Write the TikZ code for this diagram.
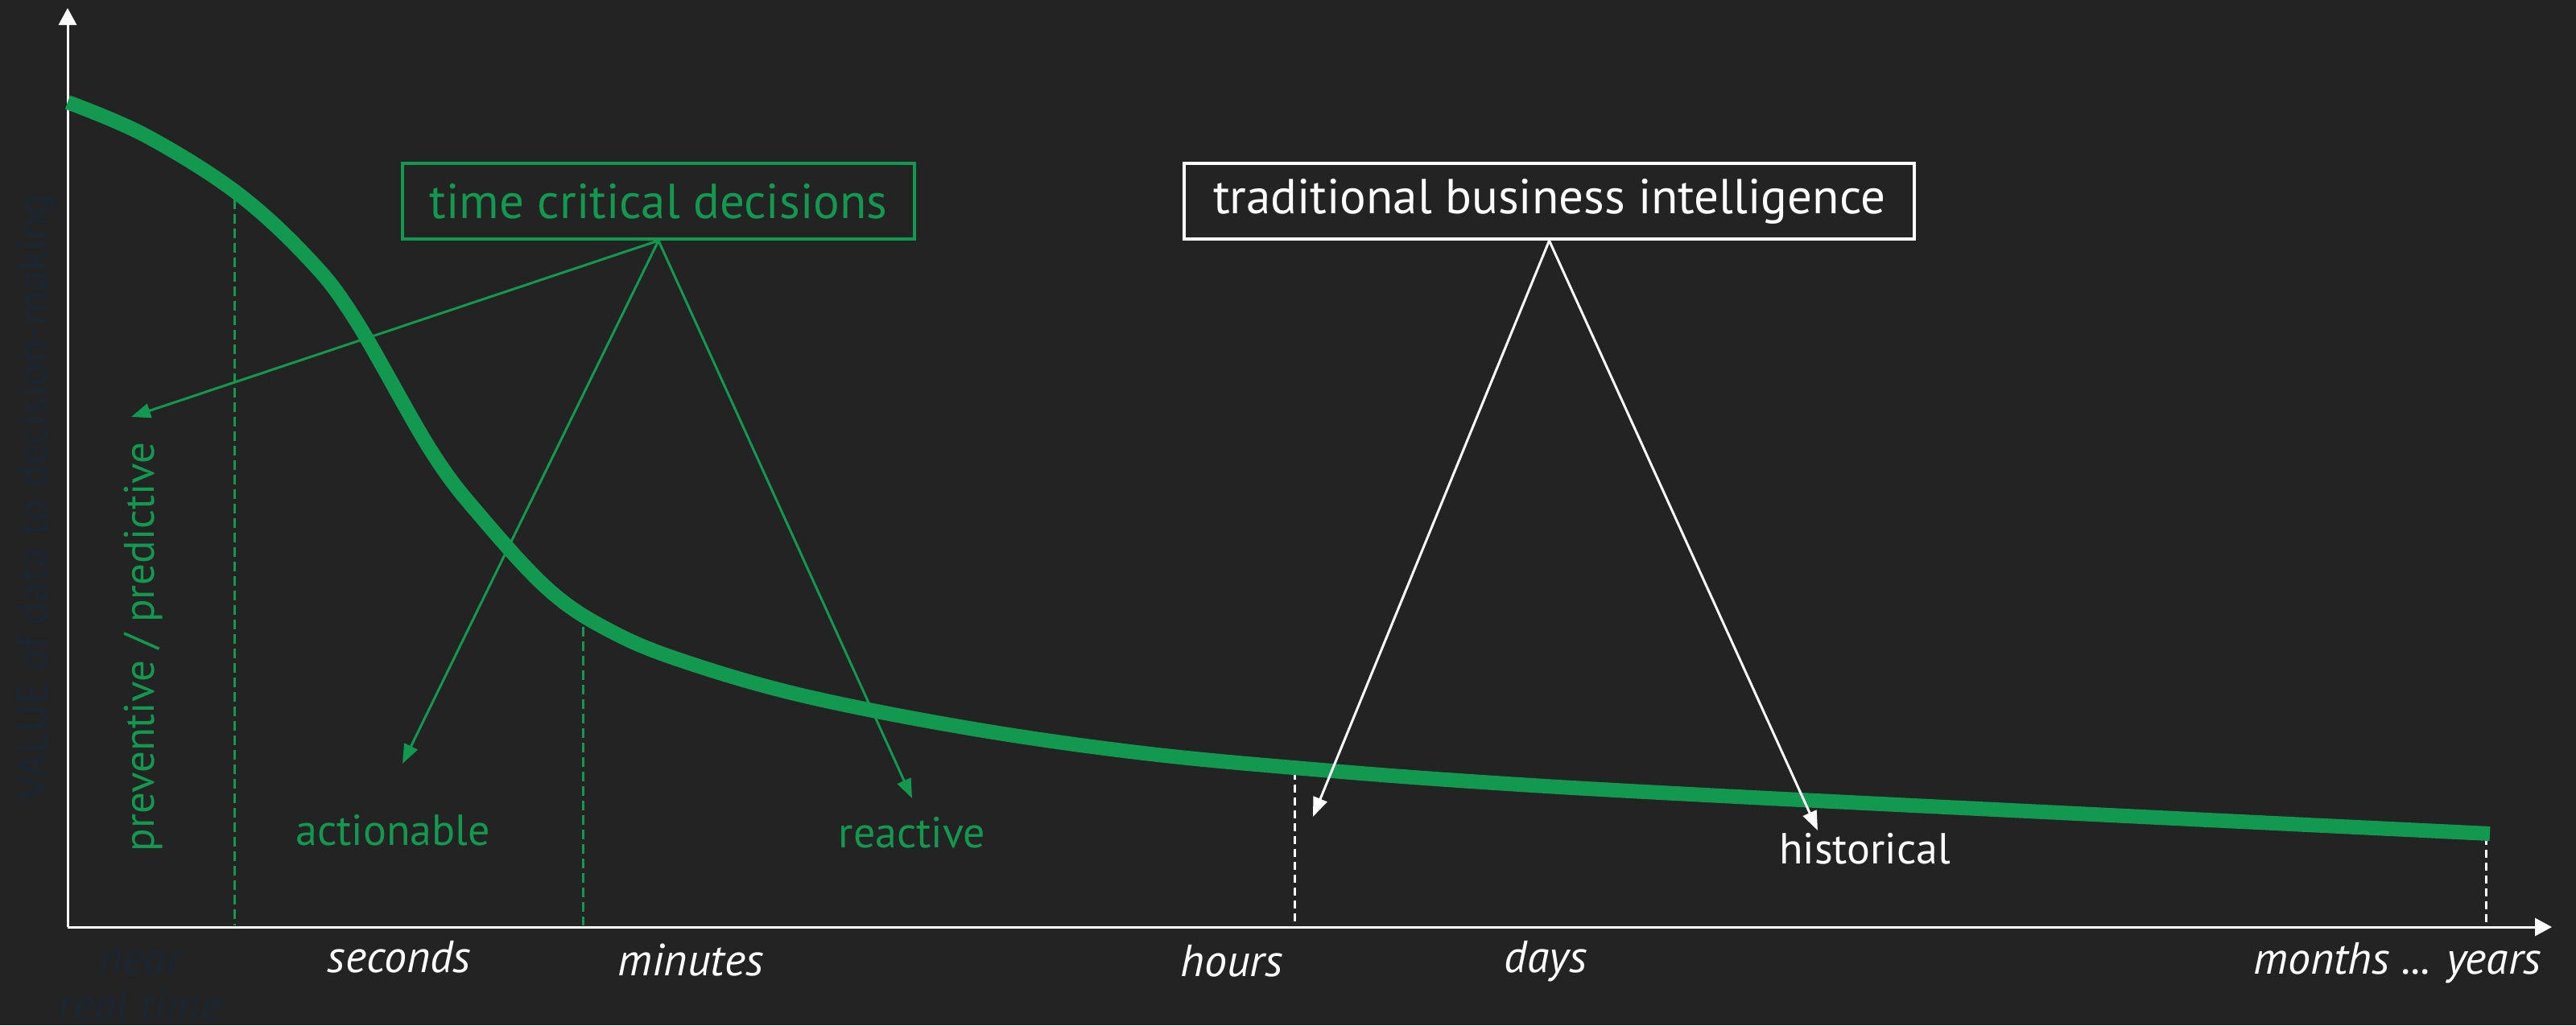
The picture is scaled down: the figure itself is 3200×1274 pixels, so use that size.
\documentclass[tikz,border=0pt]{standalone}
\usepackage{fontspec}
\setmainfont{PT Sans}
\usetikzlibrary{arrows.meta}
\definecolor{bg}{HTML}{232323}
\definecolor{grn}{HTML}{13984F}
\definecolor{navy}{HTML}{1A2632}
\begin{document}
\begin{tikzpicture}[x=0.5pt,y=-0.5pt,
  axis/.style={white, line width=1.5pt, -{Triangle[length=10.5pt,width=11pt]}},
  gline/.style={grn, line width=1.5pt, -{Triangle[length=12pt,width=9pt]}},
  wline/.style={white, line width=1.5pt, -{Triangle[length=12pt,width=9pt]}},
  gdash/.style={grn, line width=1.5pt, dash pattern=on 6pt off 3pt},
  wdash/.style={white, line width=1.5pt, dash pattern=on 5pt off 3pt},
  boxtext/.style={font=\fontsize{30.5}{36}\selectfont, inner sep=0pt, minimum height=47pt, line width=2pt},
  glabel/.style={grn, font=\fontsize{27}{32}\selectfont, anchor=base},
  tlabel/.style={white, font=\fontsize{28}{33}\selectfont\itshape, anchor=base},
  dlabel/.style={navy, font=\fontsize{28}{33}\selectfont\itshape, anchor=base}]
\fill[bg] (0,0) rectangle (3200,1274);
\useasboundingbox (0,0) rectangle (3200,1274);

% axis label (dark)
\node[navy, rotate=90, font=\fontsize{26}{30}\selectfont] (vlabel) at (46,618) {VALUE of data to decision-making};

% axes
\coordinate (O) at (84,1152);
\coordinate (ytop) at (84,10);
\coordinate (xend) at (3170,1152);
\draw[axis] (O) -- (ytop);
\draw[axis] (O) -- (xend);

% dashed markers
\coordinate (s1) at (291,248); \coordinate (s0) at (291,1150);
\coordinate (m1) at (724,779); \coordinate (m0) at (724,1150);
\coordinate (h1) at (1608,959); \coordinate (h0) at (1608,1150);
\coordinate (y1) at (3088,1040); \coordinate (y0) at (3088,1150);
\draw[gdash] (s1) -- (s0);
\draw[gdash] (m1) -- (m0);
\draw[wdash] (h1) -- (h0);
\draw[wdash] (y1) -- (y0);

% curve
\draw[grn, line width=9pt] plot[smooth, tension=0.6] coordinates {
  (84,127) (180,168) (292,238) (380,318) (440,395) (536,561) (600,645)
  (684,735) (760,785) (850,822) (1000,865) (1210,906) (1421,936) (1631,956)
  (1842,972) (2100,987) (2600,1012) (3093,1036)};

% boxes
\node[boxtext, draw=grn, text=grn, minimum width=318pt] (tcd) at (818,250) {time critical decisions};
\node[boxtext, draw=white, text=white, minimum width=453.5pt] (tbi) at (1924.5,250) {traditional business intelligence};

% arrow targets
\coordinate (pt) at (163,518);
\coordinate (at) at (500,949);
\coordinate (rt) at (1133,992);
\coordinate (ht) at (1631,1015);
\coordinate (hist) at (2258,1032);
\draw[gline] (tcd.south) -- (pt);
\draw[gline] (tcd.south) -- (at);
\draw[gline] (tcd.south) -- (rt);
\draw[wline] (tbi.south) -- (ht);
\draw[wline] (tbi.south) -- (hist);

% labels
\node[grn, rotate=90, font=\fontsize{26.5}{31}\selectfont] (prev) at (178,804) {preventive / predictive};
\node[glabel] (act) at (488,1050) {actionable};
\node[glabel] (rea) at (1133,1053) {reactive};
\node[white, font=\fontsize{27}{32}\selectfont, anchor=base west] (his) at (2203,1073) {historical};

% time axis labels
\node[dlabel] (near) at (174,1210) {near};
\node[dlabel] (rt2) at (174,1268) {real time};
\node[tlabel] (sec) at (496,1208) {seconds};
\node[tlabel] (min) at (858,1212) {minutes};
\node[tlabel] (hrs) at (1530,1213) {hours};
\node[tlabel] (dys) at (1920,1208) {days};
\node[tlabel] (mon) at (2978,1210) {months ... years};
\end{tikzpicture}
\end{document}
